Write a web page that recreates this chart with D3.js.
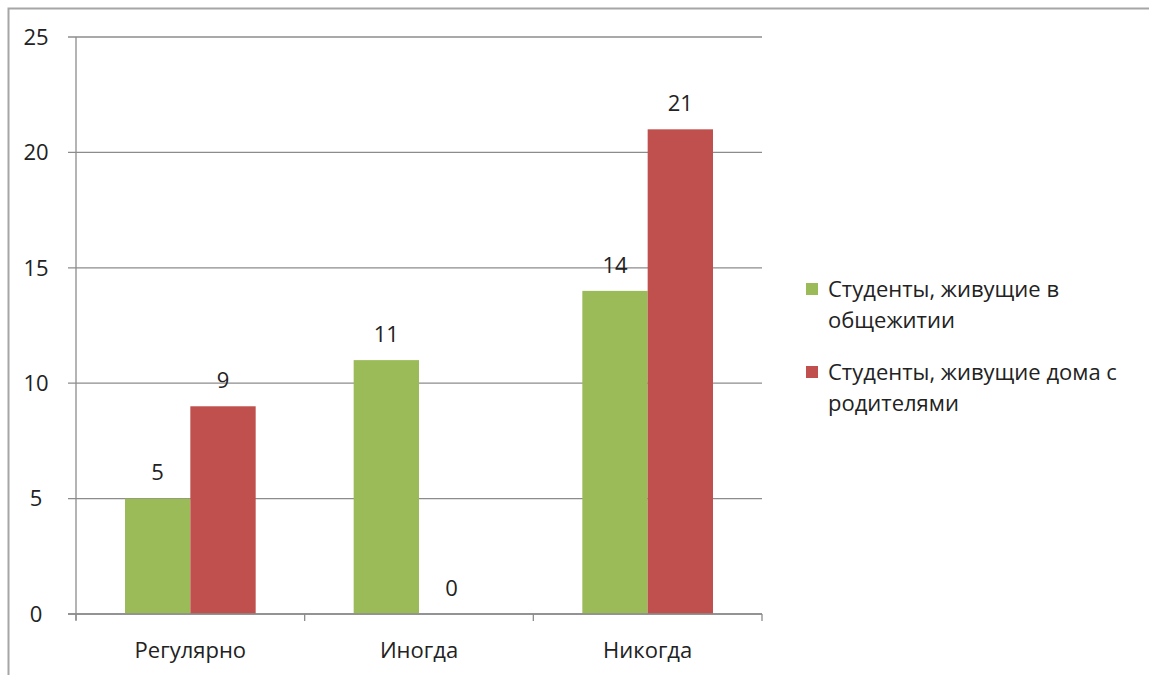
<!DOCTYPE html>
<html><head><meta charset="utf-8">
<script src="https://cdn.jsdelivr.net/npm/d3@7"></script>
<style>body{margin:0;background:#fff;} text{font-family:"Open Sans","Liberation Sans",sans-serif;}</style>
</head><body>
<svg id="c" width="1149" height="675"></svg>
<script>
const categories = ["Регулярно", "Иногда", "Никогда"];
const seriesNames = ["Студенты, живущие в общежитии", "Студенты, живущие дома с родителями"];
const dorm = [5, 11, 14];
const home = [9, 0, 21];
const yTicks = [0, 5, 10, 15, 20, 25];
const legendLines = [["Студенты, живущие в", "общежитии"], ["Студенты, живущие дома с", "родителями"]];
const colors = ["#9BBB59", "#C0504D"];

(function(){
const svg = d3.select("#c");
const fs = 22;
svg.append("rect").attr("x", 8.5).attr("y", 8.5).attr("width", 1160).attr("height", 700)
  .attr("fill", "#fff").attr("stroke", "#a6a6a6").attr("stroke-width", 2);

const pLeft = 76, pRight = 762, pTop = 37, pBottom = 614;
const x0 = d3.scaleBand().domain(categories).range([pLeft, pRight]).paddingInner(0).paddingOuter(0);
const x1 = d3.scaleBand().domain([0, 1]).range([0, x0.bandwidth()]).paddingInner(0).paddingOuter(0.75);
const y = d3.scaleLinear().domain([0, 25]).range([pBottom, pTop]);

svg.append("g").selectAll("line").data(yTicks).join("line")
  .attr("x1", pLeft - 8).attr("x2", pRight).attr("y1", d => y(d)).attr("y2", d => y(d))
  .attr("stroke", "#8c8c8c").attr("stroke-width", 1.3);

svg.append("g").selectAll("text").data(yTicks).join("text")
  .attr("x", 36).attr("y", d => y(d)).attr("dy", "0.35em").attr("text-anchor", "middle")
  .attr("font-size", fs).attr("fill", "#222").text(d => d);

const data = categories.map((c, i) => ({c, vals: [dorm[i], home[i]]}));
const g = svg.append("g").selectAll("g").data(data).join("g")
  .attr("transform", d => `translate(${x0(d.c)},0)`);
g.selectAll("rect").data(d => d.vals.map((v, k) => ({v, k}))).join("rect")
  .attr("x", d => x1(d.k)).attr("width", x1.bandwidth())
  .attr("y", d => y(d.v)).attr("height", d => y(0) - y(d.v))
  .attr("fill", d => colors[d.k]);
g.selectAll("text").data(d => d.vals.map((v, k) => ({v, k}))).join("text")
  .attr("x", d => x1(d.k) + x1.bandwidth() / 2).attr("y", d => y(d.v) - 26)
  .attr("dy", "0.35em").attr("text-anchor", "middle").attr("font-size", fs).attr("fill", "#222")
  .text(d => d.v);

svg.append("line").attr("x1", pLeft).attr("x2", pLeft).attr("y1", pTop).attr("y2", pBottom + 6)
  .attr("stroke", "#8c8c8c").attr("stroke-width", 1.3);
svg.append("line").attr("x1", pLeft - 8).attr("x2", pRight).attr("y1", pBottom).attr("y2", pBottom)
  .attr("stroke", "#8c8c8c").attr("stroke-width", 1.3);
const catTicks = categories.map(c => x0(c)).concat([pRight]);
svg.append("g").selectAll("line").data(catTicks).join("line")
  .attr("x1", d => d).attr("x2", d => d).attr("y1", pBottom).attr("y2", pBottom + 7)
  .attr("stroke", "#8c8c8c").attr("stroke-width", 1.3);
svg.append("g").selectAll("text").data(categories).join("text")
  .attr("x", d => x0(d) + x0.bandwidth() / 2).attr("y", 650).attr("dy", "0.35em")
  .attr("text-anchor", "middle").attr("font-size", fs).attr("fill", "#222").text(d => d);

const lg = svg.append("g").selectAll("g").data(seriesNames).join("g")
  .attr("transform", (d, i) => `translate(806,${289 + i * 83})`);
lg.append("rect").attr("x", 0).attr("y", -6).attr("width", 12).attr("height", 12)
  .attr("fill", (d, i) => colors[i]);
lg.each(function(d, i) {
  d3.select(this).selectAll("text").data(legendLines[i]).join("text")
    .attr("x", 22).attr("y", (t, j) => j * 31).attr("dy", "0.35em")
    .attr("font-size", fs).attr("fill", "#222").text(t => t);
});
})();
</script>
</body></html>
